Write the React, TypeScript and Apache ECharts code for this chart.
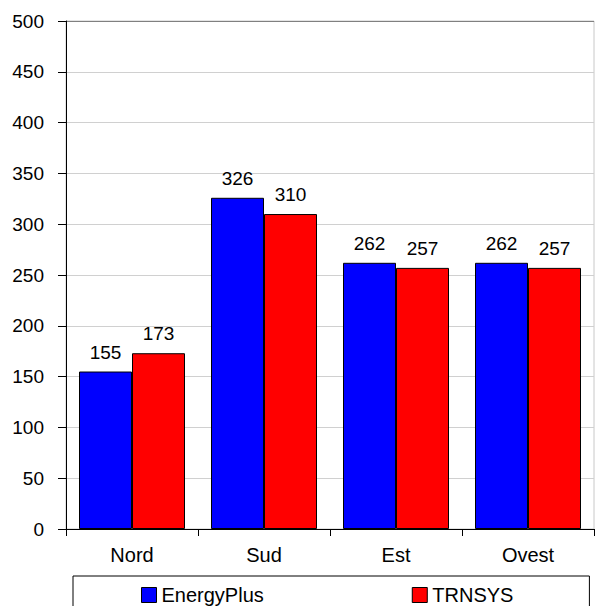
import React, { useEffect, useRef } from "react";
import * as echarts from "echarts";

const categories = ["Nord", "Sud", "Est", "Ovest"];
const energyPlus = [155, 326, 262, 262];
const trnsys = [173, 310, 257, 257];
const seriesNames = ["EnergyPlus", "TRNSYS"];
const yTicks = { min: 0, max: 500, interval: 50 };

export default function App() {
  const ref = useRef<HTMLDivElement>(null);
  useEffect(() => {
    document.body.style.margin = "0";
    const chart = echarts.init(ref.current!, null, { renderer: "svg" });
    const font = "Arial, 'Liberation Sans', sans-serif";
    const splitColors = Array.from({ length: 11 }, (_, i) => (i === 10 ? "#808080" : "#d0d0d0"));
    const label = {
      show: true,
      position: "top",
      distance: 10,
      color: "#000",
      fontSize: 19,
      fontFamily: font,
    };
    chart.setOption({
      animation: false,
      backgroundColor: "#fff",
      grid: {
        left: 66,
        right: 1,
        top: 21,
        bottom: 77,
        show: true,
        borderColor: "#c8c8c8",
        borderWidth: 1,
        containLabel: false,
      },
      legend: {
        left: 73,
        top: 576,
        padding: [9, 76, 20, 68],
        itemGap: 148,
        itemWidth: 15,
        itemHeight: 15,
        borderColor: "#000",
        borderWidth: 1,
        icon: "rect",
        itemStyle: { borderColor: "#000", borderWidth: 1 },
        textStyle: { fontSize: 20, fontFamily: font, color: "#000" },
        data: seriesNames,
      },
      xAxis: {
        type: "category",
        data: categories,
        axisLine: { lineStyle: { color: "#000", width: 1 } },
        axisTick: { show: true, length: 7, lineStyle: { color: "#000" } },
        axisLabel: { color: "#000", fontSize: 20, fontFamily: font, margin: 16 },
      },
      yAxis: {
        type: "value",
        min: yTicks.min,
        max: yTicks.max,
        interval: yTicks.interval,
        axisLine: { show: true, lineStyle: { color: "#000", width: 1 } },
        axisTick: { show: true, length: 8, lineStyle: { color: "#000" } },
        axisLabel: { color: "#000", fontSize: 19, fontFamily: font, margin: 22 },
        splitLine: { show: true, lineStyle: { color: splitColors, width: 1 } },
      },
      series: [
        {
          name: seriesNames[0],
          type: "bar",
          data: energyPlus,
          barWidth: 53,
          barGap: "0%",
          itemStyle: { color: "#0000ff", borderColor: "#000", borderWidth: 1 },
          label,
        },
        {
          name: seriesNames[1],
          type: "bar",
          data: trnsys,
          barWidth: 53,
          barGap: "0%",
          itemStyle: { color: "#ff0000", borderColor: "#000", borderWidth: 1 },
          label,
        },
      ],
    });
    return () => chart.dispose();
  }, []);
  return <div ref={ref} style={{ width: 595, height: 606 }} />;
}
